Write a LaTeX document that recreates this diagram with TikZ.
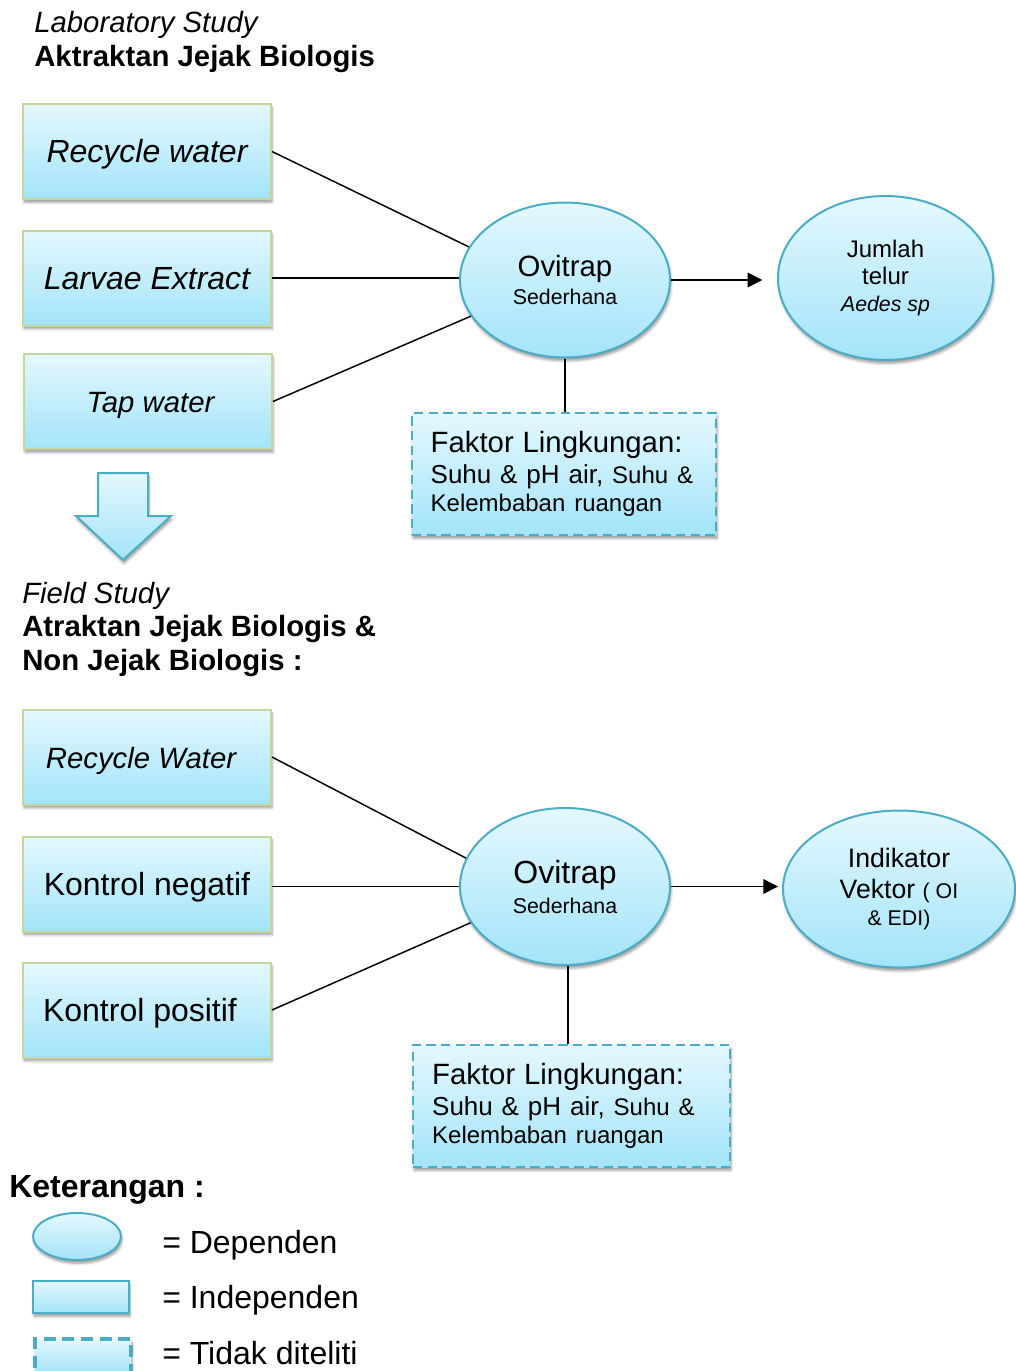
\documentclass[tikz,border=0pt]{standalone}
\usepackage{fontspec}
\setmainfont{Liberation Sans}
\usetikzlibrary{shapes.geometric,arrows.meta,shadows.blur}
\definecolor{teal1}{HTML}{4BACC6}
\definecolor{gtop}{HTML}{E4F8FE}
\definecolor{gbot}{HTML}{A3E4F9}
\definecolor{olive1}{HTML}{C3D69B}
\newcommand{\fs}[2]{\fontsize{#1}{#2}\selectfont}
\begin{document}
\begin{tikzpicture}[x=0.75pt,y=-0.75pt,
 shad/.style={blur shadow={shadow xshift=0.8pt,shadow yshift=-2.5pt,shadow blur radius=2pt,shadow opacity=40}},
 grad/.style={top color=gtop,bottom color=gbot},
 ibox/.style={rectangle,grad,shad,draw=olive1,line width=1.5pt,minimum width=186pt,minimum height=71.25pt,inner sep=0pt,text height=20pt,text depth=3.3pt,font=\fs{24}{28}},
 dep/.style={ellipse,grad,shad,draw=teal1,line width=1.5pt,inner sep=0pt,align=center},
 dbox/.style={rectangle,grad,shad,draw=teal1,line width=2pt,dash pattern=on 7pt off 4pt,align=left,inner ysep=0pt,inner xsep=14pt,minimum height=91.5pt,font=\fs{20}{23}},
 conn/.style={draw=black,line width=1.1pt},
 arr/.style={conn,-{Triangle[length=11pt,width=11pt]}},
 ttl/.style={anchor=west,inner sep=0pt,align=left}]
\useasboundingbox (0,0) rectangle (1016,1371);

% titles
\node[ttl,font=\fs{22}{26}\itshape] (t1) at (34,25) {Laboratory Study};
\node[ttl,font=\fs{22}{26}\bfseries] (t2) at (34,59) {Aktraktan Jejak Biologis};

% top section
\node[ibox] (b1) at (147,151.5) {\itshape Recycle water};
\node[ibox] (b2) at (147,278) {\itshape Larvae Extract};
\node[ibox] (b3) at (148,401.5) {\hspace*{3.75pt}\fs{22}{26}\itshape Tap water};
\node[dep,minimum width=157.5pt,minimum height=116.25pt,font=\fs{16}{21}] (ov1) at (565,280)
  {{\fs{22}{21}Ovitrap}\\Sederhana};
\node[dep,minimum width=161.25pt,minimum height=123pt,font=\fs{18}{20.5}] (je) at (885.5,278)
  {Jumlah\\telur\\{\fs{16}{20.5}\itshape Aedes sp}};
\node[dbox,minimum width=228pt,text width=200pt] (fk1) at (564,474)
  {{\fs{22}{23}Faktor Lingkungan:}\\{\fs{19.5}{23}Suhu \& pH air, }{\fs{18}{23}Suhu \&}\\[-1.5pt]{\fs{18}{23}Kelembaban ruangan}};

\draw[conn] (b1.east) -- (ov1.161);
\draw[conn] (b2.east) -- (b2.east -| ov1.west);
\draw[conn] (b3.east) -- (ov1.201);
\draw[arr,shorten >=11pt] (ov1.east) -- (ov1.east -| je.west);
\draw[conn] (ov1.south) -- (ov1.south |- fk1.north);

% down arrow
\draw[grad,shad,draw=teal1,line width=1.5pt] (98,473) -- (148,473) -- (148,516) -- (171,516) -- (123,560) -- (76,516) -- (98,516) -- cycle;

% field study titles
\node[ttl,font=\fs{22}{26}\itshape] (t3) at (22,596) {Field Study};
\node[ttl,font=\fs{22}{26}\bfseries] (t4) at (22,629) {Atraktan Jejak Biologis \&};
\node[ttl,font=\fs{22}{26}\bfseries] (t5) at (22,663) {Non Jejak Biologis :};

% bottom section
\node[ibox] (b4) at (147,757) {\fs{22}{26}\itshape Recycle Water\hspace*{9pt}};
\node[ibox] (b5) at (147,884) {Kontrol negatif};
\node[ibox] (b6) at (147,1010) {Kontrol positif\hspace*{10.5pt}};
\node[dep,minimum width=157.5pt,minimum height=117.75pt,font=\fs{16}{22.5}] (ov2) at (565,886.5)
  {{\fs{24}{22.5}Ovitrap}\\Sederhana};
\node[dep,minimum width=174pt,minimum height=117.75pt,font=\fs{20}{20}] (ik) at (899,889)
  {Indikator\\[3pt]Vektor {\fs{16}{20}( OI}\\{\fs{16}{20}\& EDI)}};
\node[dbox,minimum width=237.75pt,text width=209pt] (fk2) at (571.5,1106)
  {{\fs{22}{23}Faktor Lingkungan:}\\{\fs{19.5}{23}Suhu \& pH air, }{\fs{18}{23}Suhu \&}\\[-1.5pt]{\fs{18}{23}Kelembaban ruangan}};

\draw[conn] (b4.east) -- (ov2.164);
\draw[conn] (ov2.west -| b5.east) -- (ov2.west);
\draw[conn] (b6.east) -- (ov2.201);
\draw[arr,shorten >=3pt] (ov2.east) -- (ov2.east -| ik.west);
\draw[conn] ([xshift=2.2pt]ov2.south) -- ([xshift=2.2pt]ov2.south |- fk2.north);

% legend
\node[ttl,font=\fs{24}{28}\bfseries] (k) at (9,1190) {Keterangan :};
\node[dep,minimum width=66pt,minimum height=35.25pt] (le) at (77,1236.5) {};
\node[rectangle,grad,shad,draw=teal1,line width=1.5pt,minimum width=72pt,minimum height=24pt,inner sep=0pt] (lr) at (81,1297) {};
\node[rectangle,grad,shad,draw=teal1,line width=2.5pt,dash pattern=on 9pt off 5pt,minimum width=72pt,minimum height=25.5pt,inner sep=0pt] (ld) at (83,1356) {};
\node[ttl,font=\fs{24}{28}] (l1) at (162,1245) {= Dependen};
\node[ttl,font=\fs{24}{28}] (l2) at (162,1300) {= Independen};
\node[ttl,font=\fs{24}{28}] (l3) at (162,1353) {= Tidak diteliti};
\end{tikzpicture}
\end{document}
